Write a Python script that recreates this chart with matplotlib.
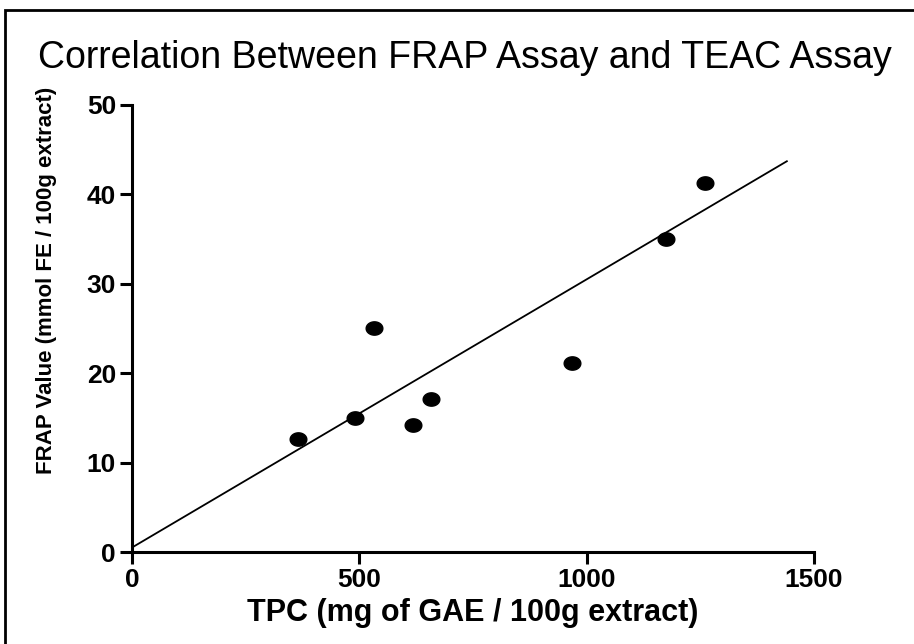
import numpy as np
import matplotlib
matplotlib.use("Agg")
import matplotlib.pyplot as plt
from matplotlib.path import Path
from matplotlib.patches import Rectangle

# data
tpc = [365, 490, 532, 617, 657, 967, 1174, 1260]
frap = [12.6, 14.95, 25.1, 14.2, 17.1, 21.1, 35.0, 41.3]

# fitted line shown on the chart
fit_slope = 0.0300
fit_intercept = 0.5
fit_range = [0, 1442]

x_ticks = [0, 500, 1000, 1500]
y_ticks = [0, 10, 20, 30, 40, 50]

plt.rcParams["font.family"] = ["Liberation Sans", "DejaVu Sans"]

# slightly wide ellipse marker
t = np.linspace(0, 2 * np.pi, 60)
ellipse = Path(np.column_stack([np.cos(t), 0.8 * np.sin(t)]), closed=True)

fig = plt.figure(figsize=(9.14, 6.44), dpi=100)
ax = fig.add_axes([132 / 914, 1 - 552 / 644, 682 / 914, 447 / 644])

fx = np.array(fit_range)
ax.plot(fx, fit_intercept + fit_slope * fx, color="black", lw=1.3, solid_capstyle="butt")
ax.plot(tpc, frap, linestyle="none", marker=ellipse, markersize=12, color="black")

ax.set_xlim(0, 1500)
ax.set_ylim(0, 50)
ax.set_xticks(x_ticks)
ax.set_yticks(y_ticks)
for s in ["top", "right"]:
    ax.spines[s].set_visible(False)
for s in ["left", "bottom"]:
    ax.spines[s].set_linewidth(2.2)
ax.tick_params(direction="out", length=8.5, width=2.2, labelsize=19, pad=3)
for lab in ax.get_xticklabels() + ax.get_yticklabels():
    lab.set_fontweight("bold")
ax.set_xlabel("TPC (mg of GAE / 100g extract)", fontsize=22, fontweight="bold")
ax.xaxis.set_label_coords(0.5, -(613 - 552) / 447)
ax.set_ylabel("FRAP Value (mmol FE / 100g extract)", fontsize=16, fontweight="bold")
ax.yaxis.set_label_coords(-(132 - 47) / 682, (552 - 280) / 447)
ax.xaxis.label.set_va("center")
ax.yaxis.label.set_va("center")

fig.text(465 / 914, 1 - 58 / 644, "Correlation Between FRAP Assay and TEAC Assay",
         fontsize=27, ha="center", va="center")

# outer frame
fig.patches.append(Rectangle((5 / 914, -0.1), 2, 1 - 10 / 644 + 0.1, transform=fig.transFigure,
                             fill=False, edgecolor="black", lw=2))

fig.savefig("out.png", dpi=100)
